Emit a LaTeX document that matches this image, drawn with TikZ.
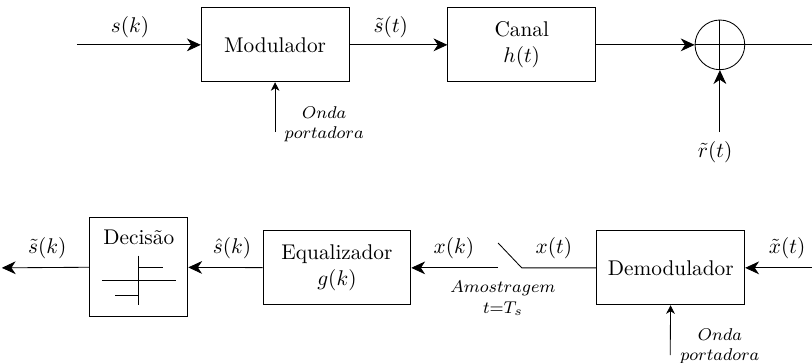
\documentclass[tikz,border=0pt]{standalone}
\usepackage{amsmath, amssymb}
\usepackage{tikz}
\usetikzlibrary{arrows.meta}

\begin{document}
\begin{tikzpicture}[
    blockbox/.style={draw, minimum width=2.44cm, minimum height=1.22cm, align=center},
    sig/.style={-{Stealth[length=6.5pt, width=6pt, inset=2pt]}},
    carrier/.style={-{Stealth[length=4pt, width=4pt, inset=1.2pt]}},
    small/.style={font=\footnotesize, align=center, inner sep=0pt}
]
    \useasboundingbox (0, 0) rectangle (13.4, -5.99);

    % TOP: Transmitter and channel
    \node[blockbox] (mod) at (4.54, -0.74) {Modulador};
    \node[blockbox] (canal) at (8.61, -0.74) {Canal\\$h(t)$};
    \node[draw, circle, minimum size=0.82cm, inner sep=0pt] (sum) at (11.88, -0.74) {};
    \draw (sum.north) -- (sum.south);
    \draw (sum.west) -- (sum.east);

    \coordinate (in) at (1.27, -0.74);
    \coordinate (outR) at (13.4, -0.74);
    \coordinate (noise) at (11.88, -2.18);
    \coordinate (carrA) at (4.54, -2.18);

    \draw[sig] (in) -- (mod);
    \draw[sig] (mod) -- (canal);
    \draw[sig] (canal) -- (sum);
    \draw (sum.east) -- (outR);
    \draw[sig] (noise) -- (sum);
    \draw[carrier] (carrA) -- (mod);

    \node (sk) at (2.145, -0.45) {$s(k)$};
    \node (st) at (6.45, -0.45) {$\tilde{s}(t)$};
    \node (rt) at (11.80, -2.51) {$\tilde{r}(t)$};
    \node[small] (ondaA) at (5.35, -2.05) {$Onda$\\$portadora$};

    % BOTTOM: Receiver
    \node[blockbox] (demod) at (11.07, -4.42) {Demodulador};
    \node[blockbox] (eq) at (5.56, -4.42) {Equalizador\\$g(k)$};
    \node[draw, minimum width=1.62cm, minimum height=1.63cm] (dec) at (2.29, -4.41) {};
    \node (dectitle) at (2.29, -3.91) {Decisão};
    % Decision symbol
    \draw (2.29, -4.22) -- (2.29, -5.03);
    \draw (1.68, -4.62) -- (2.90, -4.62);
    \draw (2.29, -4.42) -- (2.69, -4.42);
    \draw (1.90, -4.88) -- (2.29, -4.88);

    \coordinate (inR) at (13.4, -4.42);
    \coordinate (pivot) at (8.61, -4.42);
    \coordinate (blade) at (8.22, -4.01);
    \coordinate (swout) at (8.22, -4.42);
    \coordinate (outL) at (0.03, -4.42);
    \coordinate (carrB) at (11.06, -5.86);

    \draw[sig] (inR) -- (demod);
    \draw[carrier] (carrB) -- (demod);
    \draw (demod.west) -- (pivot) -- (blade);
    \draw[sig] (swout) -- (eq);
    \draw[sig] (eq) -- (dec);
    \draw[sig] (dec.west) -- (outL);

    \node (xtt) at (12.99, -4.09) {$\tilde{x}(t)$};
    \node (xt) at (9.14, -4.09) {$x(t)$};
    \node (xk) at (7.49, -4.09) {$x(k)$};
    \node (shk) at (3.83, -4.09) {$\hat{s}(k)$};
    \node (stk) at (0.78, -4.09) {$\tilde{s}(k)$};
    \node[small] (amost) at (8.30, -4.92) {$Amostragem$\\$t{=}T_s$};
    \node[small] (ondaB) at (11.88, -5.71) {$Onda$\\$portadora$};

\end{tikzpicture}
\end{document}
